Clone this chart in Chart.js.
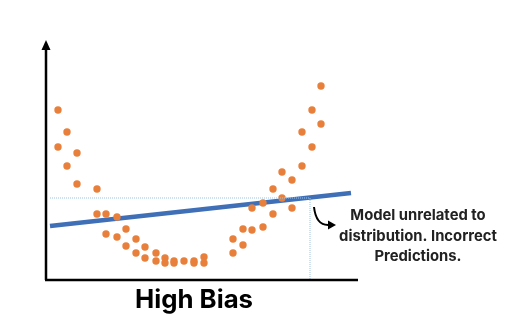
<!DOCTYPE html>
<html>
<head>
<meta charset="utf-8">
<script src="https://cdn.jsdelivr.net/npm/chart.js@4"></script>
<style>
  body { margin: 0; background: #fff; }
  canvas { display: block; }
</style>
</head>
<body>
<canvas id="chart" width="512" height="334"></canvas>
<script>
// data, arbitrary units (x: 0..312, y: 0..238)
const pointX = [12, 21, 12, 31, 21, 31, 51, 51, 60, 71, 80, 60, 71, 90, 80, 99, 90, 110, 99, 110,
  119, 119, 128, 128, 138, 148, 148, 158, 158, 187, 187, 197, 197, 206, 217, 206, 217, 227, 227,
  236, 246, 236, 246, 256, 256, 266, 266, 275, 275];
const pointY = [170, 148, 133, 127, 114, 96, 91, 66, 66, 63, 51, 46, 43, 41, 34, 33, 27, 27, 22, 19,
  22, 17, 19, 17, 19, 19, 17, 23, 17, 27, 41, 35, 51, 50, 53, 72, 77, 66, 91,
  82, 72, 108, 100, 114, 148, 133, 170, 156, 194];
const fitX = [4, 305];
const fitY = [54, 87];
const guideX = [4, 264, 264];
const guideY = [82, 82, 0];

const titleText = 'High Bias';
const noteLines = ['Model unrelated to', 'distribution. Incorrect', 'Predictions.'];

const toXY = (xs, ys) => xs.map((x, i) => ({ x, y: ys[i] }));

const decor = {
  id: 'decor',
  afterDraw(chart) {
    const ctx = chart.ctx;
    const a = chart.chartArea;
    ctx.save();
    // axes
    ctx.strokeStyle = '#000';
    ctx.lineWidth = 2.5;
    ctx.beginPath();
    ctx.moveTo(a.left, a.bottom);
    ctx.lineTo(a.left, a.top + 6);
    ctx.moveTo(a.left - 1, a.bottom);
    ctx.lineTo(a.right, a.bottom);
    ctx.stroke();
    ctx.fillStyle = '#000';
    ctx.beginPath();
    ctx.moveTo(a.left, a.top - 2);
    ctx.lineTo(a.left - 4.5, a.top + 8);
    ctx.lineTo(a.left + 4.5, a.top + 8);
    ctx.closePath();
    ctx.fill();

    // curved arrow
    ctx.lineWidth = 2;
    ctx.beginPath();
    ctx.moveTo(314, 207);
    ctx.quadraticCurveTo(316, 225, 328, 225);
    ctx.stroke();
    ctx.beginPath();
    ctx.moveTo(336, 225);
    ctx.lineTo(328, 220.5);
    ctx.lineTo(328, 229.5);
    ctx.closePath();
    ctx.fill();

    // note text
    ctx.fillStyle = '#222';
    ctx.textAlign = 'center';
    ctx.textBaseline = 'middle';
    let size = 14;
    ctx.font = `bold ${size}px Inter, "Noto Sans", sans-serif`;
    size = size * 158 / ctx.measureText(noteLines[1]).width;
    ctx.font = `bold ${size}px Inter, "Noto Sans", sans-serif`;
    noteLines.forEach((t, i) => ctx.fillText(t, 418, 216 + i * 20.3));

    // title
    ctx.fillStyle = '#000';
    ctx.textBaseline = 'alphabetic';
    let ts = 22;
    ctx.font = `bold ${ts}px Inter, "Noto Sans", sans-serif`;
    ts = ts * 118 / ctx.measureText(titleText).width;
    ctx.font = `bold ${ts}px Inter, "Noto Sans", sans-serif`;
    ctx.fillText(titleText, 194, 307.5);
    ctx.restore();
  }
};

new Chart(document.getElementById('chart'), {
  type: 'scatter',
  data: {
    datasets: [
      {
        data: toXY(guideX, guideY),
        showLine: true,
        borderColor: '#9DC3E6',
        borderWidth: 1,
        borderDash: [1, 1],
        pointRadius: 0
      },
      {
        data: toXY(pointX, pointY),
        backgroundColor: '#E8803C',
        borderWidth: 0,
        pointRadius: 3.7
      },
      {
        data: toXY(fitX, fitY),
        showLine: true,
        borderColor: '#3F6FB6',
        borderWidth: 4.5,
        pointRadius: 0
      }
    ]
  },
  options: {
    responsive: false,
    animation: false,
    layout: { padding: { left: 46, right: 154, top: 42, bottom: 54 } },
    scales: {
      x: { type: 'linear', min: 0, max: 312, display: false },
      y: { type: 'linear', min: 0, max: 238, display: false }
    },
    plugins: {
      legend: { display: false },
      tooltip: { enabled: false }
    },
    clip: false
  },
  plugins: [decor]
});
</script>
</body>
</html>
